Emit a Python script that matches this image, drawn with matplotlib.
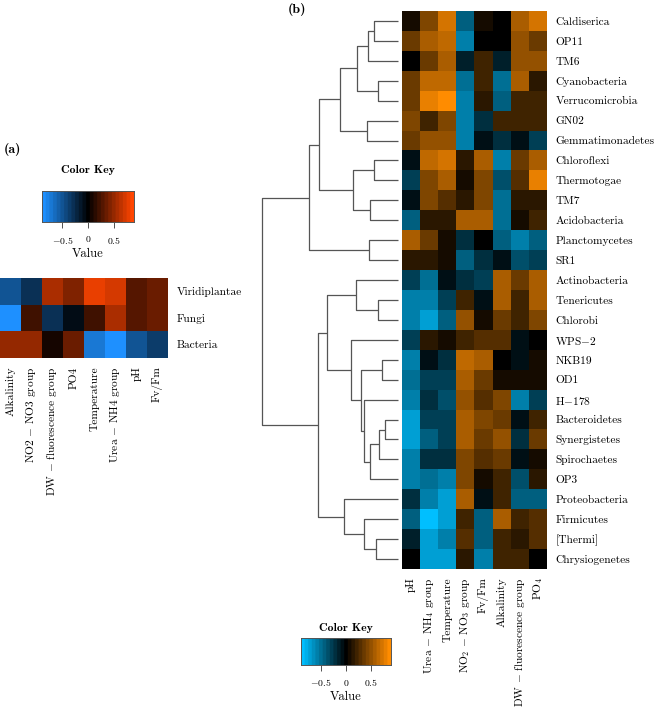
import numpy as np
import matplotlib
matplotlib.use('Agg')
from matplotlib import pyplot as plt
from matplotlib.colors import LinearSegmentedColormap

plt.rcParams['font.family'] = 'cmr10'
plt.rcParams['mathtext.fontset'] = 'cm'
plt.rcParams['axes.unicode_minus'] = False

# ---- panel (a): kingdoms vs parameters
kingdoms = ['Viridiplantae', 'Fungi', 'Bacteria']
params_a = ['Alkalinity', r'NO2 $-$ NO3 group', r'DW $-$ fluorescence group', 'PO4',
            'Temperature', r'Urea $-$ NH4 group', 'pH', 'Fv/Fm']
corr_a = np.array([
    [-0.50, -0.30, 0.55, 0.40, 0.80, 0.70, 0.30, 0.35],
    [-0.85, 0.20, -0.30, -0.10, 0.20, 0.55, 0.28, 0.35],
    [0.52, 0.52, 0.05, 0.35, -0.75, -0.90, -0.50, -0.35],
])

# ---- panel (b): phyla vs parameters
phyla = ['Caldiserica', 'OP11', 'TM6', 'Cyanobacteria', 'Verrucomicrobia', 'GN02',
         'Gemmatimonadetes', 'Chloroflexi', 'Thermotogae', 'TM7', 'Acidobacteria',
         'Planctomycetes', 'SR1', 'Actinobacteria', 'Tenericutes', 'Chlorobi',
         r'WPS$-$2', 'NKB19', 'OD1', r'H$-$178', 'Bacteroidetes', 'Synergistetes',
         'Spirochaetes', 'OP3', 'Proteobacteria', 'Firmicutes', '[Thermi]',
         'Chrysiogenetes']
params_b = ['pH', r'Urea $-$ NH$_4$ group', 'Temperature', r'NO$_2$ $-$ NO$_3$ group',
            'Fv/Fm', 'Alkalinity', r'DW $-$ fluorescence group', r'PO$_4$']
corr_b = np.array([
    [0.10, 0.45, 0.75, -0.45, 0.05, 0.03, 0.60, 0.75],
    [0.35, 0.55, 0.65, -0.60, 0.03, 0.03, 0.50, 0.35],
    [0.00, 0.35, 0.60, -0.15, 0.25, -0.15, 0.50, 0.50],
    [0.35, 0.65, 0.65, -0.50, 0.20, -0.50, 0.60, 0.15],
    [0.35, 0.80, 0.85, -0.60, 0.15, -0.40, 0.20, 0.25],
    [0.40, 0.25, 0.40, -0.55, -0.25, 0.20, 0.20, 0.25],
    [0.35, 0.50, 0.50, -0.60, -0.10, -0.25, -0.10, -0.30],
    [-0.10, 0.65, 0.70, 0.12, 0.60, -0.60, 0.35, 0.60],
    [-0.30, 0.40, 0.60, 0.10, 0.40, -0.35, 0.30, 0.80],
    [-0.10, 0.40, 0.30, 0.15, 0.45, -0.50, 0.15, 0.15],
    [-0.45, 0.12, 0.15, 0.55, 0.55, -0.50, 0.10, 0.25],
    [0.55, 0.35, 0.10, -0.20, 0.00, -0.40, -0.55, -0.45],
    [0.15, 0.15, 0.10, -0.40, -0.20, -0.05, -0.35, -0.30],
    [-0.30, -0.50, -0.05, -0.20, -0.30, 0.60, 0.35, 0.60],
    [-0.55, -0.55, -0.30, 0.25, -0.05, 0.60, 0.20, 0.55],
    [-0.60, -0.70, -0.45, 0.50, 0.10, 0.35, 0.20, 0.45],
    [-0.30, 0.15, 0.10, 0.20, 0.30, 0.30, -0.10, -0.02],
    [-0.60, -0.10, -0.25, 0.65, 0.60, 0.00, -0.05, 0.08],
    [-0.50, -0.30, -0.30, 0.55, 0.35, 0.05, 0.10, 0.10],
    [-0.55, -0.25, -0.35, 0.50, 0.30, 0.45, -0.55, -0.30],
    [-0.75, -0.30, -0.30, 0.60, 0.45, 0.35, -0.10, 0.25],
    [-0.75, -0.40, -0.30, 0.55, 0.35, 0.50, -0.20, 0.35],
    [-0.55, -0.20, -0.20, 0.45, 0.30, 0.35, -0.05, 0.10],
    [-0.60, -0.50, -0.55, 0.45, 0.08, 0.20, -0.35, 0.12],
    [-0.25, -0.55, -0.70, 0.55, -0.10, 0.25, -0.40, -0.40],
    [-0.40, -0.90, -0.70, 0.25, -0.45, 0.60, 0.20, 0.30],
    [-0.15, -0.70, -0.55, 0.30, -0.40, 0.20, 0.15, 0.30],
    [0.00, -0.75, -0.70, 0.15, -0.55, 0.25, 0.20, -0.02],
])

# row clustering of panel (b): (child, child, height), ints point to earlier merges
merges = [
    ('Caldiserica', 'OP11', 2.4),        # 0
    (0, 'TM6', 3.0),                     # 1
    ('Cyanobacteria', 'Verrucomicrobia', 2.0),  # 2
    (1, 2, 4.1),                         # 3
    ('GN02', 'Gemmatimonadetes', 3.1),   # 4
    (3, 4, 5.8),                         # 5
    ('Chloroflexi', 'Thermotogae', 2.4), # 6
    ('TM7', 'Acidobacteria', 2.8),       # 7
    (6, 7, 4.5),                         # 8
    (5, 8, 7.8),                         # 9
    ('Planctomycetes', 'SR1', 2.9),      # 10
    (9, 10, 8.8),                        # 11
    ('NKB19', 'OD1', 1.6),               # 12
    ('Bacteroidetes', 'Synergistetes', 1.3),  # 13
    (13, 'Spirochaetes', 1.9),           # 14
    (14, 'OP3', 2.8),                    # 15
    (r'H$-$178', 15, 3.4),               # 16
    (12, 16, 3.7),                       # 17
    (r'WPS$-$2', 17, 4.7),               # 18
    ('Tenericutes', 'Chlorobi', 2.0),    # 19
    ('Actinobacteria', 19, 4.2),         # 20
    (20, 18, 7.0),                       # 21
    ('[Thermi]', 'Chrysiogenetes', 2.2), # 22
    ('Firmicutes', 22, 3.4),             # 23
    ('Proteobacteria', 23, 5.4),         # 24
    (21, 24, 7.9),                       # 25
    (11, 25, 13.5),                      # 26
]

vmax = 0.9
cmap_a = LinearSegmentedColormap.from_list('ka', ['#1E90FF', '#000000', '#FF4500'], N=25)
cmap_b = LinearSegmentedColormap.from_list('kb', ['#00BFFF', '#000000', '#FF8C00'], N=25)

W, H = 660, 712
fig = plt.figure(figsize=(W / 100, H / 100), dpi=100)


def box(x0, y0, x1, y1):
    return [x0 / W, 1 - y1 / H, (x1 - x0) / W, (y1 - y0) / H]


def heat(rect, data, cmap, rows, cols):
    ax = fig.add_axes(rect)
    ax.imshow(data, cmap=cmap, vmin=-vmax, vmax=vmax, aspect='auto', interpolation='nearest')
    ax.set_xticks(range(len(cols)))
    ax.set_xticklabels(cols, rotation=90, fontsize=8.2)
    ax.set_yticks(range(len(rows)))
    ax.set_yticklabels(rows, fontsize=8.2)
    ax.yaxis.tick_right()
    ax.tick_params(length=0, pad=6)
    for s in ax.spines.values():
        s.set_visible(False)
    return ax


def key(rect, cmap, tpad):
    ax = fig.add_axes(rect)
    grad = np.linspace(-vmax, vmax, 200).reshape(1, -1)
    ax.imshow(grad, cmap=cmap, vmin=-vmax, vmax=vmax, aspect='auto',
              extent=[-vmax, vmax, 0, 1])
    ax.set_yticks([])
    ax.set_xticks([-0.5, 0, 0.5])
    ax.set_xticklabels([r'$-0.5$', r'$0$', r'$0.5$'], fontsize=7)
    ax.tick_params(axis='x', length=4, width=0.6, pad=5, color='#333333')
    for s in ax.spines.values():
        s.set_color('#555555')
        s.set_linewidth(0.7)
    ax.set_title('Color Key', fontsize=8.5, family='cmb10', pad=tpad)
    ax.set_xlabel('Value', fontsize=9, labelpad=2)
    return ax


# panel (a)
heat(box(0, 278, 168, 358), corr_a, cmap_a, kingdoms, params_a)
key(box(42, 191, 134, 222), cmap_a, 13)
fig.text(4 / W, 1 - 150 / H, '(a)', family='cmb10', fontsize=10, va='center')

# panel (b)
heat(box(402, 11, 547, 569), corr_b, cmap_b, phyla, params_b)
key(box(301, 638, 391, 665), cmap_b, 5)
fig.text(288 / W, 1 - 10 / H, '(b)', family='cmb10', fontsize=10, va='center')

# dendrogram of panel (b)
axd = fig.add_axes(box(262, 11, 398, 569))
pos = {name: i for i, name in enumerate(phyla)}
hgt = {name: 0.0 for name in phyla}
for k, (a, b, h) in enumerate(merges):
    axd.plot([hgt[a], h, h, hgt[b]], [pos[a], pos[a], pos[b], pos[b]],
             color='#555555', lw=0.9, clip_on=False, solid_capstyle='butt')
    pos[k] = (pos[a] + pos[b]) / 2
    hgt[k] = h
axd.set_xlim(merges[-1][2], 0)
axd.set_ylim(len(phyla) - 0.5, -0.5)
axd.axis('off')

fig.savefig('out.png', dpi=100)
